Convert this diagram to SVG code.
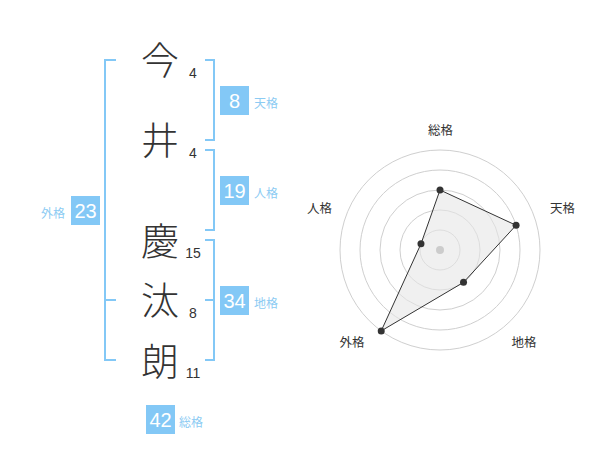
<svg xmlns="http://www.w3.org/2000/svg" width="600" height="470" viewBox="0 0 600 470">
<style>
.ch{font-family:"Noto Sans CJK JP","Noto Sans CJK SC",sans-serif;font-size:38px;font-weight:300;fill:#333;text-anchor:middle}
.st{font-family:"Liberation Sans",Arial,sans-serif;font-size:14px;fill:#333;text-anchor:middle}
.bx{fill:#83c8f6}
.bn{font-family:"Liberation Sans",Arial,sans-serif;font-size:20px;fill:#fff;text-anchor:middle}
.lb{font-family:"Noto Sans CJK JP","Noto Sans CJK SC",sans-serif;font-size:12px;fill:#8ccbf3}
.br{fill:none;stroke:#83c8f6;stroke-width:2}
.rg{fill:none;stroke:#cfcfcf;stroke-width:1}
.rl{font-family:"Noto Sans CJK JP","Noto Sans CJK SC",sans-serif;font-size:12.5px;fill:#333;text-anchor:middle}
.pt{fill:#333}
</style>
<rect width="600" height="470" fill="#fff"/>
<g id="chars">
<text class="ch" x="160" y="74">今</text>
<text class="ch" x="160" y="154">井</text>
<text class="ch" x="160" y="255">慶</text>
<text class="ch" x="160" y="314">汰</text>
<text class="ch" x="160" y="375">朗</text>
<text class="st" x="193" y="78">4</text>
<text class="st" x="193" y="158">4</text>
<text class="st" x="193" y="258">15</text>
<text class="st" x="193" y="318">8</text>
<text class="st" x="193" y="378">11</text>
</g>
<g id="connectors">
<path class="br" d="M116 60H105V360H116M105 300H116"/>
<path class="br" d="M205 60H214V140H205"/>
<path class="br" d="M205 150H214V230H205"/>
<path class="br" d="M205 240H214V360H205M205 300H214"/>
</g>
<g id="tenkaku">
<rect class="bx" x="220" y="86" width="29" height="29"/>
<text class="bn" x="234.5" y="107.5">8</text>
<text class="lb" x="254" y="108">天格</text>
</g>
<g id="jinkaku">
<rect class="bx" x="220" y="176" width="29" height="29"/>
<text class="bn" x="234.5" y="197.5">19</text>
<text class="lb" x="254" y="198">人格</text>
</g>
<g id="chikaku">
<rect class="bx" x="220" y="286" width="29" height="29"/>
<text class="bn" x="234.5" y="307.5">34</text>
<text class="lb" x="254" y="308">地格</text>
</g>
<g id="gaikaku">
<rect class="bx" x="71" y="196" width="29" height="29"/>
<text class="bn" x="85.5" y="217.5">23</text>
<text class="lb" x="41" y="218">外格</text>
</g>
<g id="soukaku">
<rect class="bx" x="146" y="405" width="29" height="29"/>
<text class="bn" x="160.5" y="426.5">42</text>
<text class="lb" x="179" y="427">総格</text>
</g>
<g id="radar">
<circle class="rg" cx="440" cy="250" r="20"/>
<circle class="rg" cx="440" cy="250" r="40"/>
<circle class="rg" cx="440" cy="250" r="60"/>
<circle class="rg" cx="440" cy="250" r="80"/>
<circle class="rg" cx="440" cy="250" r="100"/>
<polygon points="440,190 516.08,225.28 463.51,282.36 381.22,330.9 420.98,243.82" fill="#e6e6e6" fill-opacity="0.6" stroke="#333" stroke-width="1"/>
<circle cx="440" cy="250" r="4" fill="#ccc"/>
<circle class="pt" cx="440" cy="190" r="3.5"/>
<circle class="pt" cx="516.08" cy="225.28" r="3.5"/>
<circle class="pt" cx="463.51" cy="282.36" r="3.5"/>
<circle class="pt" cx="381.22" cy="330.9" r="3.5"/>
<circle class="pt" cx="420.98" cy="243.82" r="3.5"/>
<text class="rl" x="440.5" y="135">総格</text>
<text class="rl" x="562.5" y="212.5">天格</text>
<text class="rl" x="524" y="346.5">地格</text>
<text class="rl" x="352" y="346.5">外格</text>
<text class="rl" x="319.5" y="212.5">人格</text>
</g>
</svg>
